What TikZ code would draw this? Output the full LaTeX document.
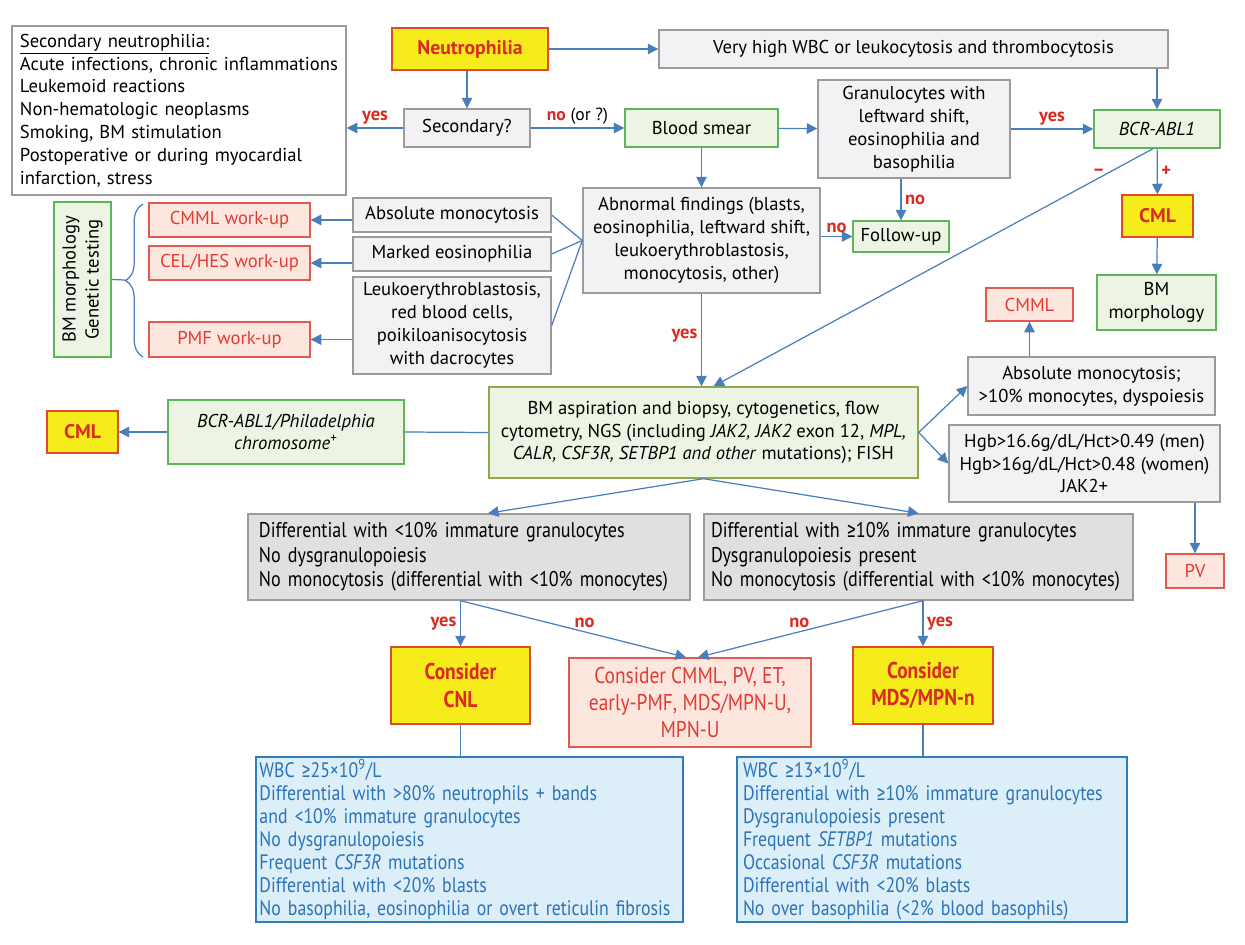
\documentclass[tikz,border=0pt]{standalone}
\usepackage{fontspec}
\setmainfont{PT Sans}
\newfontfamily\narrowfont{PT Sans}[FakeStretch=0.85]
\newfontfamily\symnarrow{Fira Sans}[FakeStretch=0.85]
\newcommand{\geqsign}{{\symnarrow ≥}}
\usetikzlibrary{arrows.meta,calc,decorations.pathreplacing}

\definecolor{arrowblue}{HTML}{4A7EBB}
\definecolor{boxgray}{HTML}{9B9B9B}
\definecolor{fillgray}{HTML}{F2F2F4}
\definecolor{filldiff}{HTML}{E0E0E0}
\definecolor{boxgreen}{HTML}{5DB65A}
\definecolor{fillgreen}{HTML}{EEF4E3}
\definecolor{boxolive}{HTML}{8FA84C}
\definecolor{markyellow}{HTML}{F7EC1B}
\definecolor{markred}{HTML}{DE4A2C}
\definecolor{textred}{HTML}{D92B1F}
\definecolor{fillpink}{HTML}{FDE6DE}
\definecolor{boxpink}{HTML}{E05A50}
\definecolor{textpink}{HTML}{E03C33}
\definecolor{boxblue}{HTML}{2F7CBF}
\definecolor{fillblue}{HTML}{DCEFF9}
\definecolor{textblue}{HTML}{2B72B6}

\tikzset{
  base/.style={draw, line width=0.8pt, inner sep=0pt, align=center, font=\fontsize{10.6}{13}\selectfont},
  graybox/.style={base, draw=boxgray, fill=fillgray},
  diffbox/.style={base, draw=boxgray, fill=filldiff, align=left, font=\narrowfont\fontsize{12.1}{14}\selectfont},
  greenbox/.style={base, draw=boxgreen, fill=fillgreen},
  olivebox/.style={base, draw=boxolive, fill=fillgreen},
  yellowbox/.style={base, draw=markred, fill=markyellow, text=textred, font=\bfseries\fontsize{11.2}{13}\selectfont},
  pinkbox/.style={base, draw=boxpink, fill=fillpink, text=textpink},
  bluebox/.style={base, draw=boxblue, fill=fillblue, text=textblue, align=left, font=\narrowfont\fontsize{11.9}{13.1}\selectfont},
  flow/.style={draw=arrowblue, line width=0.7pt, -{Triangle[width=6pt,length=6pt]}},
  link/.style={draw=arrowblue, line width=0.7pt},
  lbl/.style={text=textred, font=\bfseries\fontsize{10.5}{12}\selectfont, inner sep=2pt},
}

\begin{document}
\begin{tikzpicture}[x=0.2mm, y=-0.2mm]
%%%%% START %%%%%
\useasboundingbox (0,0) rectangle (1245,945);

% top part
\node[graybox, fill=white, minimum width=66.8mm, minimum height=33.8mm, text width=63.6mm, align=left] (secN) at (179,110.5)
  {\underline{Secondary neutrophilia:}\\Acute infections, chronic inflammations\\Leukemoid reactions\\Non-hematologic neoplasms\\Smoking, BM stimulation\\Postoperative or during myocardial\\infarction, stress};
\node[yellowbox, minimum width=31.2mm, minimum height=8.4mm] (neut) at (470,49) {Neutrophilia};
\node[graybox, minimum width=101.8mm, minimum height=7.6mm] (vhigh) at (913.5,49) {Very high WBC or leukocytosis and thrombocytosis};
\node[graybox, minimum width=25.2mm, minimum height=7.6mm] (sec) at (467,128) {Secondary?};
\node[greenbox, minimum width=30.6mm, minimum height=7.6mm] (smear) at (701.5,128) {Blood smear};
\node[graybox, minimum width=38.4mm, minimum height=19.6mm] (gran) at (914,129) {Granulocytes with\\leftward shift,\\eosinophilia and\\basophilia};
\node[greenbox, minimum width=25.2mm, minimum height=7.6mm] (bcr) at (1157,129) {\itshape BCR-ABL1};
\node[yellowbox, minimum width=14.2mm, minimum height=8.4mm] (cmlR) at (1157.5,216) {CML};
\node[greenbox, minimum width=23.8mm, minimum height=11mm] (bmm) at (1156.5,302.5) {BM\\morphology};
\node[greenbox, minimum width=19.2mm, minimum height=6.2mm] (fup) at (901,236.5) {Follow-up};
\node[graybox, minimum width=47.4mm, minimum height=21mm] (abn) at (701.5,240.5) {Abnormal findings (blasts,\\eosinophilia, leftward shift,\\leukoerythroblastosis,\\monocytosis, other)};

% left part
\node[graybox, minimum width=39.6mm, minimum height=6.8mm] (amono) at (452,215) {Absolute monocytosis};
\node[graybox, minimum width=39.6mm, minimum height=6.8mm] (meos) at (452,254) {Marked eosinophilia};
\node[graybox, minimum width=39.6mm, minimum height=19.4mm] (leuko) at (452,325.5) {Leukoerythroblastosis,\\red blood cells,\\poikiloanisocytosis\\with dacrocytes};
\node[pinkbox, minimum width=32.2mm, minimum height=6.8mm] (cmmlw) at (229.5,220) {CMML work-up};
\node[pinkbox, minimum width=32.2mm, minimum height=6.8mm] (celw) at (229.5,263) {CEL/HES work-up};
\node[pinkbox, minimum width=32.2mm, minimum height=7mm] (pmfw) at (229.5,339.5) {PMF work-up};
\node[greenbox, rotate=90, minimum width=31mm, minimum height=11.4mm] (bmgen) at (82.5,279.5) {BM morphology\\Genetic testing};
\draw[link, decorate, decoration={brace, amplitude=10pt}] (143,357) -- (143,204);
\coordinate (bracetip) at (125,280);

% right part
\node[pinkbox, minimum width=17.4mm, minimum height=6.6mm] (cmmlR) at (1029.5,304.5) {CMML};
\node[graybox, minimum width=49.4mm, minimum height=11.6mm] (amono2) at (1091.5,386) {Absolute monocytosis;\\>10\% monocytes, dyspoiesis};
\node[graybox, minimum width=54.2mm, minimum height=15.4mm] (hgb) at (1084.5,463.5) {Hgb>16.6g/dL/Hct>0.49 (men)\\Hgb>16g/dL/Hct>0.48 (women)\\JAK2+};
\node[pinkbox, minimum width=11.6mm, minimum height=6.8mm] (pv) at (1195,571) {PV};

% middle part
\node[olivebox, minimum width=85.8mm, minimum height=18.2mm] (bma) at (703.5,432.5) {BM aspiration and biopsy, cytogenetics, flow\\cytometry, NGS (including \textit{JAK2, JAK2} exon 12, \textit{MPL,}\\\textit{CALR, CSF3R, SETBP1 and other} mutations); FISH};
\node[greenbox, minimum width=47.2mm, minimum height=12.8mm] (phil) at (286,432) {\itshape BCR-ABL1/Philadelphia\\\itshape chromosome\textsuperscript{\upshape +}};
\node[yellowbox, minimum width=14.2mm, minimum height=8.4mm] (cmlL) at (82.5,432) {CML};

% lower part
\node[diffbox, minimum width=88.4mm, minimum height=17.2mm, text width=84mm] (diffL) at (469,557) {Differential with <10\% immature granulocytes\\No dysgranulopoiesis\\No monocytosis (differential with <10\% monocytes)};
\node[diffbox, minimum width=85.8mm, minimum height=17.2mm, text width=83mm] (diffR) at (918.5,557) {Differential with \geqsign10\% immature granulocytes\\Dysgranulopoiesis present\\No monocytosis (differential with <10\% monocytes)};
\node[yellowbox, font=\narrowfont\bfseries\fontsize{13}{15.5}\selectfont, minimum width=27.8mm, minimum height=15.4mm] (cnl) at (460.5,685.5) {Consider\\CNL};
\node[pinkbox, font=\narrowfont\fontsize{13}{15.5}\selectfont, minimum width=48.4mm, minimum height=17.8mm] (other) at (690,702.5) {Consider CMML, PV, ET,\\early-PMF, MDS/MPN-U,\\MPN-U};
\node[yellowbox, font=\narrowfont\bfseries\fontsize{13}{15.5}\selectfont, minimum width=28mm, minimum height=15.4mm] (mds) at (923,685.5) {Consider\\MDS/MPN-n};
\node[bluebox, minimum width=85.4mm, minimum height=33mm, text width=84mm] (critL) at (469.5,839.5) {WBC \geqsign25×10\textsuperscript{9}/L\\Differential with >80\% neutrophils + bands\\and <10\% immature granulocytes\\No dysgranulopoiesis\\Frequent \textit{CSF3R} mutations\\Differential with <20\% blasts\\No basophilia, eosinophilia or overt reticulin fibrosis};
\node[bluebox, minimum width=78mm, minimum height=33mm, text width=75.6mm] (critR) at (932,839.5) {WBC \geqsign13×10\textsuperscript{9}/L\\Differential with \geqsign10\% immature granulocytes\\Dysgranulopoiesis present\\Frequent \textit{SETBP1} mutations\\Occasional \textit{CSF3R} mutations\\Differential with <20\% blasts\\No over basophilia (<2\% blood basophils)};

% connectors
\draw[flow] (neut) -- (vhigh);
\draw[flow] (neut.south -| sec.north) -- (sec.north);
\draw[flow] (sec.west) -- node[lbl, above] {yes} (sec.west -| secN.east);
\draw[flow] (sec) -- node[above, inner sep=2pt] {\textcolor{textred}{\bfseries no} (or ?)} (smear);
\draw[flow] (smear) -- (gran);
\draw[flow] (smear) -- (abn);
\draw[flow] (gran) -- node[lbl, above] {yes} (bcr);
\draw[flow] (vhigh.south -| bcr.north) -- (bcr.north);
\draw[flow] (gran.south -| fup.north) -- node[lbl, right] {no} (fup.north);
\draw[flow] (abn.east |- fup.west) -- node[lbl, above] {no} (fup.west);
\draw[link] (abn.west) -- (amono.east);
\draw[link] (abn.west) -- (meos.east);
\draw[link] (abn.west) -- (leuko.east);
\draw[flow] (amono.west |- cmmlw.east) -- (cmmlw.east);
\draw[flow] (meos.west |- celw.east) -- (celw.east);
\draw[flow] (leuko.west |- pmfw.east) -- (pmfw.east);
\draw[link] (bmgen.south) -- (bracetip);
\draw[flow] (abn.south) -- node[lbl, left, pos=0.45] {yes} (abn.south |- bma.north);
\draw[flow] (bcr) -- node[lbl, right] {+} (cmlR);
\draw[flow] ($(bcr.south)+(-4,0)$) -- node[lbl, pos=0.1, left] {–} ($(bma.north)+(10,0)$);
\draw[flow] (cmlR) -- (bmm);
\draw[link] (bma.west) -- (phil.east);
\draw[flow] (phil) -- (cmlL);
\draw[flow] (bma.east) -- (amono2.west);
\draw[flow] (bma.east) -- (hgb.west);
\draw[flow] (amono2.north -| cmmlR.south) -- (cmmlR.south);
\draw[flow] (hgb.south -| pv.north) -- (pv.north);
\draw[flow] (bma.south) -- ($(diffL.north)+(19,0)$);
\draw[flow] (bma.south) -- (diffR.north);
\draw[flow] (diffL.south -| cnl.north) -- node[lbl, left] {yes} (cnl.north);
\draw[flow] (diffL.south -| cnl.north) -- node[lbl, above, pos=0.55] {no} ($(other.north)+(-4,0)$);
\draw[flow] (diffR.south -| mds.north) -- node[lbl, right] {yes} (mds.north);
\draw[flow] (diffR.south -| mds.north) -- node[lbl, above, pos=0.55] {no} ($(other.north)+(8,0)$);
\draw[link] (cnl.south) -- (cnl.south |- critL.north);
\draw[link] (mds.south) -- (mds.south |- critR.north);
%%%%% END %%%%%
\end{tikzpicture}
\end{document}
